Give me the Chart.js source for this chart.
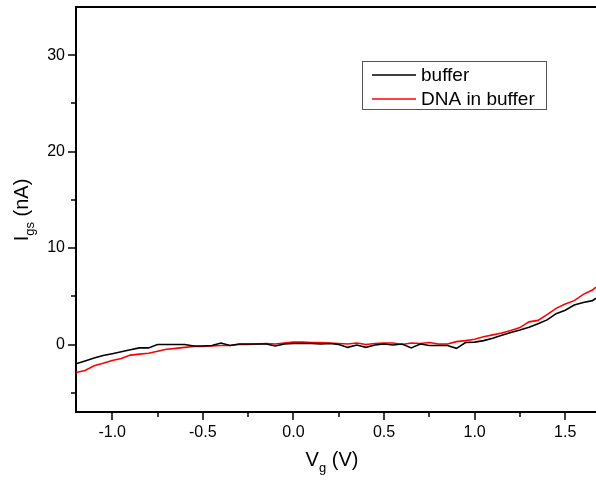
<!DOCTYPE html>
<html>
<head>
<meta charset="utf-8">
<script src="https://cdn.jsdelivr.net/npm/chart.js@4"></script>
<style>
  html, body { margin: 0; padding: 0; background: #fff; }
  #wrap { width: 596px; height: 480px; }
</style>
</head>
<body>
<div id="wrap"><canvas id="ivChart"></canvas></div>
<script>
// gate voltage (V)
const vg = [-1.2, -1.15, -1.1, -1.05, -1.0, -0.95, -0.9, -0.85, -0.8, -0.75, -0.7, -0.65, -0.6, -0.55, -0.5,
  -0.45, -0.4, -0.35, -0.3, -0.25, -0.2, -0.15, -0.1, -0.05, 0.0, 0.05, 0.1, 0.15, 0.2, 0.25, 0.3,
  0.35, 0.4, 0.45, 0.5, 0.55, 0.6, 0.65, 0.7, 0.75, 0.8, 0.85, 0.9, 0.95, 1.0, 1.05, 1.1, 1.15,
  1.2, 1.25, 1.3, 1.35, 1.4, 1.45, 1.5, 1.55, 1.6, 1.65, 1.67];

// Igs (nA)
const bufferIgs = [-2.0, -1.7, -1.4, -1.15, -0.95, -0.75, -0.55, -0.35, -0.35, 0.0, 0.0, 0.0, 0.0, -0.15, -0.15,
  -0.1, 0.15, -0.1, 0.05, 0.05, 0.05, 0.05, -0.15, 0.05, 0.1, 0.1, 0.1, 0.05, 0.1, 0.0, -0.3,
  -0.05, -0.3, -0.05, 0.05, -0.05, 0.05, -0.35, 0.05, -0.1, -0.1, -0.1, -0.4, 0.2, 0.25, 0.4, 0.65, 0.95,
  1.25, 1.5, 1.8, 2.15, 2.55, 3.2, 3.55, 4.1, 4.35, 4.55, 4.8];

const dnaIgs = [-2.9, -2.7, -2.2, -1.95, -1.65, -1.45, -1.1, -1.0, -0.9, -0.7, -0.5, -0.4, -0.3, -0.2, -0.2,
  -0.15, -0.1, -0.1, 0.0, 0.0, 0.05, 0.1, 0.05, 0.15, 0.25, 0.25, 0.2, 0.2, 0.15, 0.1, 0.05,
  0.15, 0.0, 0.1, 0.15, 0.15, 0.0, 0.15, 0.1, 0.2, 0.05, 0.05, 0.3, 0.4, 0.55, 0.8, 1.0, 1.2,
  1.45, 1.75, 2.35, 2.5, 3.1, 3.75, 4.2, 4.55, 5.2, 5.65, 5.95];

const xMajor = [-1.0, -0.5, 0.0, 0.5, 1.0, 1.5];
const xMinor = [-0.75, -0.25, 0.25, 0.75, 1.25];
const yMajor = [0, 10, 20, 30];
const yMinor = [-5, 5, 15, 25];

const FONT = "'Liberation Sans', Arial, sans-serif";

const toPoints = (ys) => ys.map((y, i) => ({ x: vg[i], y: y }));

// ticks, top frame line, legend box and axis titles with subscripts
const decorations = {
  id: "decorations",
  afterDraw(chart) {
    const { ctx, chartArea: a, scales: { x, y } } = chart;
    ctx.save();
    ctx.strokeStyle = "#000";
    ctx.lineWidth = 2;

    // top frame
    ctx.beginPath();
    ctx.moveTo(a.left - 1, a.top);
    ctx.lineTo(a.right, a.top);
    ctx.stroke();

    // ticks (outside)
    ctx.lineWidth = 1.5;
    ctx.beginPath();
    xMajor.forEach(v => { const px = Math.round(x.getPixelForValue(v)); ctx.moveTo(px, a.bottom); ctx.lineTo(px, a.bottom + 8); });
    xMinor.forEach(v => { const px = Math.round(x.getPixelForValue(v)); ctx.moveTo(px, a.bottom); ctx.lineTo(px, a.bottom + 5); });
    yMajor.forEach(v => { const py = Math.round(y.getPixelForValue(v)); ctx.moveTo(a.left, py); ctx.lineTo(a.left - 8, py); });
    yMinor.forEach(v => { const py = Math.round(y.getPixelForValue(v)); ctx.moveTo(a.left, py); ctx.lineTo(a.left - 5, py); });
    ctx.stroke();

    // legend
    ctx.lineWidth = 1;
    ctx.strokeStyle = "#555";
    ctx.strokeRect(362.5, 61.5, 184, 48);
    ctx.font = "19px " + FONT;
    ctx.textBaseline = "middle";
    ctx.textAlign = "left";
    chart.data.datasets.forEach((ds, i) => {
      const ly = 75 + i * 24;
      ctx.strokeStyle = ds.borderColor;
      ctx.lineWidth = 1.6;
      ctx.beginPath();
      ctx.moveTo(372, ly);
      ctx.lineTo(416, ly);
      ctx.stroke();
      ctx.fillStyle = "#000";
      ctx.fillText(ds.label, 421, ly + 1);
    });

    // x title: V_g (V)
    ctx.fillStyle = "#000";
    ctx.textBaseline = "alphabetic";
    const main = "20px " + FONT, sub = "13px " + FONT;
    ctx.font = main; const wV = ctx.measureText("V").width;
    ctx.font = sub; const wg = ctx.measureText("g").width;
    ctx.font = main; const wRest = ctx.measureText(" (V)").width;
    let tx = 332 - (wV + wg + wRest) / 2;
    ctx.fillText("V", tx, 466); tx += wV;
    ctx.font = sub; ctx.fillText("g", tx, 472); tx += wg;
    ctx.font = main; ctx.fillText(" (V)", tx, 466);

    // y title: I_gs (nA)
    ctx.translate(28, 210);
    ctx.rotate(-Math.PI / 2);
    ctx.font = main; const wI = ctx.measureText("I").width;
    ctx.font = sub; const wgs = ctx.measureText("gs").width;
    ctx.font = main; const wnA = ctx.measureText(" (nA)").width;
    let ty = -(wI + wgs + wnA) / 2;
    ctx.fillText("I", ty, 0); ty += wI;
    ctx.font = sub; ctx.fillText("gs", ty, 6); ty += wgs;
    ctx.font = main; ctx.fillText(" (nA)", ty, 0);
    ctx.restore();
  }
};

new Chart(document.getElementById("ivChart"), {
  type: "line",
  data: {
    datasets: [
      { label: "buffer", data: toPoints(bufferIgs), borderColor: "#000000", borderWidth: 1.6 },
      { label: "DNA in buffer", data: toPoints(dnaIgs), borderColor: "#ff0000", borderWidth: 1.6 }
    ]
  },
  options: {
    responsive: true,
    maintainAspectRatio: false,
    animation: false,
    layout: { padding: { top: 7, right: 0, left: 0, bottom: 0 } },
    elements: { point: { radius: 0 }, line: { tension: 0 } },
    plugins: { legend: { display: false }, tooltip: { enabled: false } },
    scales: {
      x: {
        type: "linear",
        min: -1.2,
        max: 1.67,
        grid: { display: false },
        border: { display: true, color: "#000", width: 2 },
        afterBuildTicks: s => { s.ticks = xMajor.map(v => ({ value: v })); },
        afterFit: s => { s.height = 68; s.paddingLeft = 0; s.paddingRight = 0; },
        ticks: {
          padding: 3,
          color: "#000",
          font: { family: FONT, size: 16 },
          maxRotation: 0,
          callback: v => v.toFixed(1)
        }
      },
      y: {
        min: -7,
        max: 35,
        grid: { display: false },
        border: { display: true, color: "#000", width: 2 },
        afterBuildTicks: s => { s.ticks = yMajor.map(v => ({ value: v })); },
        afterFit: s => { s.width = 76; s.paddingTop = 0; s.paddingBottom = 0; },
        ticks: {
          padding: 3,
          color: "#000",
          font: { family: FONT, size: 16 },
          callback: v => String(v)
        }
      }
    }
  },
  plugins: [decorations]
});
</script>
</body>
</html>
